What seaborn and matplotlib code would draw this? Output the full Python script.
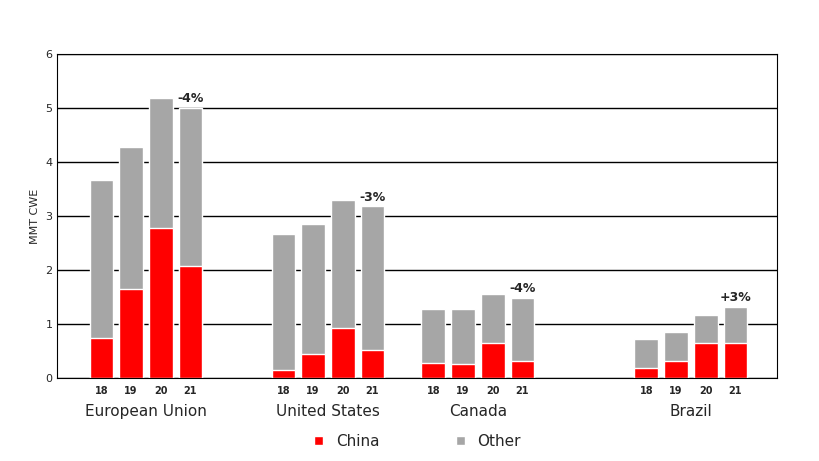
import pandas as pd
import matplotlib
matplotlib.use('Agg')
import matplotlib.pyplot as plt
import seaborn as sns

regions = ['European Union', 'United States', 'Canada', 'Brazil']
years = ['18', '19', '20', '21']
total = [[3.67, 4.27, 5.18, 5.00],
         [2.67, 2.86, 3.30, 3.18],
         [1.27, 1.28, 1.55, 1.48],
         [0.72, 0.86, 1.17, 1.32]]
china = [[0.75, 1.65, 2.78, 2.07],
         [0.15, 0.45, 0.93, 0.52],
         [0.28, 0.26, 0.65, 0.32],
         [0.19, 0.32, 0.64, 0.65]]
changes = ['-4%', '-3%', '-4%', '+3%']

# layout: group start positions on a pixel-like x scale
group_start = [101, 283, 433, 646]
step = 29.7

rows = []
for g, reg in enumerate(regions):
    for i, yr in enumerate(years):
        rows.append({'x': group_start[g] + step * i, 'region': reg, 'year': yr,
                     'total': total[g][i], 'china': china[g][i]})
df = pd.DataFrame(rows)

sns.set_style('white')
fig, ax = plt.subplots(figsize=(8.2, 4.61), dpi=100)
fig.subplots_adjust(left=0.07, right=0.948, top=0.883, bottom=0.18)

sns.barplot(data=df, x='x', y='total', native_scale=True, color='#a6a6a6',
            saturation=1, width=0.8, ax=ax)
sns.barplot(data=df, x='x', y='china', native_scale=True, color='#ff0000',
            saturation=1, width=0.8, ax=ax)

ax.set_xlim(57, 777)
ax.set_ylim(0, 6)
ax.set_yticks(range(7))
ax.tick_params(axis='y', labelsize=8, length=0)
ax.yaxis.grid(True, color='black', linewidth=1)
ax.set_axisbelow(True)
for s in ax.spines.values():
    s.set_color('black')
ax.set_xticks(df['x'])
ax.set_xticklabels([r['year'] for _, r in df.iterrows()], fontsize=7, fontweight='bold')
ax.tick_params(axis='x', length=0, pad=6)
ax.set_xlabel('')
ax.set_ylabel('MMT CWE', fontsize=8)

for g, reg in enumerate(regions):
    cx = group_start[g] + step * 1.5
    ax.text(cx, -0.62, reg, ha='center', va='center', fontsize=11)
    ax.text(group_start[g] + step * 3, total[g][3] + 0.05, changes[g],
            ha='center', va='bottom', fontsize=9, fontweight='bold')

ax.bar([0], [0], color='#ff0000', label='China')
ax.bar([0], [0], color='#a6a6a6', label='Other')
ax.legend(loc='upper center', bbox_to_anchor=(0.5, -0.13), ncol=2, frameon=False,
          fontsize=11, handlelength=0.6, handleheight=0.6, columnspacing=5)

fig.savefig('out.png')
